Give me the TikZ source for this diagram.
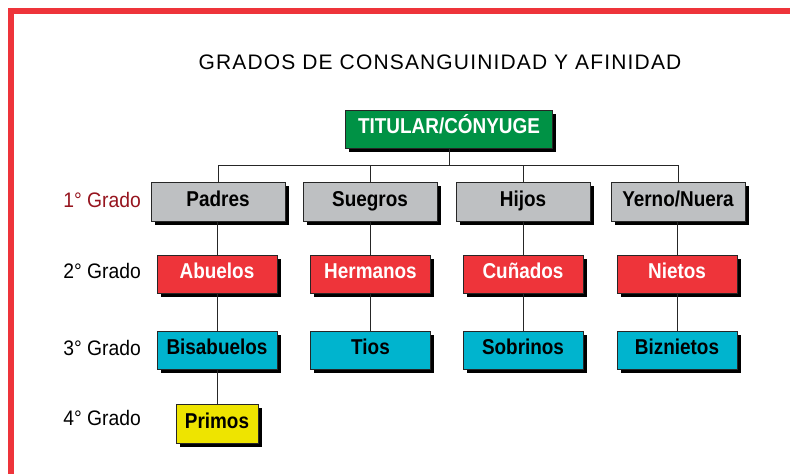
\documentclass[tikz,border=0pt]{standalone}
\usepackage{fontspec}
\setmainfont{Liberation Sans}
\newfontfamily\boxfont[FakeStretch=0.88]{Liberation Sans}
\newfontfamily\labfont[FakeStretch=0.92]{Liberation Sans}
\usetikzlibrary{shadows}
\definecolor{frame}{RGB}{238,52,58}
\definecolor{boxgreen}{RGB}{0,146,69}
\definecolor{boxgray}{RGB}{190,192,194}
\definecolor{boxred}{RGB}{238,52,58}
\definecolor{boxcyan}{RGB}{0,180,206}
\definecolor{boxyellow}{RGB}{238,228,0}
\definecolor{labred}{RGB}{150,20,30}
\tikzset{
  box/.style={draw=black!85, line width=0.8pt, inner sep=0pt,
    font=\boxfont\fontsize{21.5}{22}\selectfont\bfseries,
    text height=15.5pt, text depth=6.5pt,
    drop shadow={shadow xshift=3.5pt, shadow yshift=-3.5pt, fill=black, opacity=1}},
  lvl1/.style={box, fill=boxgray, text=black, minimum width=134pt, minimum height=39pt},
  lvl2/.style={box, fill=boxred, text=white, minimum width=120pt, minimum height=38pt},
  lvl3/.style={box, fill=boxcyan, text=black, minimum width=120pt, minimum height=38pt},
  lvl4/.style={box, fill=boxyellow, text=black, minimum width=82pt, minimum height=39pt},
  topbox/.style={box, fill=boxgreen, text=white, minimum width=207pt, minimum height=38pt},
  conn/.style={draw=black!85, line width=0.8pt},
  gradlab/.style={anchor=east, inner sep=0pt, font=\labfont\fontsize{21}{22}\selectfont}
}
\begin{document}
\begin{tikzpicture}[x=1pt,y=-1pt]
\useasboundingbox (0,0) rectangle (790,474);
\fill[white] (0,0) rectangle (790,474);
% red frame
\draw[frame, line width=6pt] (11,474) -- (11,11) -- (790,11);
% title
\node[inner sep=0pt, font=\fontsize{21}{22}\selectfont, text=black] (title) at (440,62) {\addfontfeature{LetterSpace=5.5}GRADOS DE CONSANGUINIDAD Y AFINIDAD};
% top box
\node[topbox] (tit) at (449,129) {TITULAR/CÓNYUGE};
% level 1
\node[lvl1] (padres) at (218,201.5) {Padres};
\node[lvl1] (suegros) at (370,201.5) {Suegros};
\node[lvl1] (hijos) at (523,201.5) {Hijos};
\node[lvl1] (yerno) at (678,201.5) {Yerno/Nuera};
% level 2
\node[lvl2] (abuelos) at (217,274) {Abuelos};
\node[lvl2] (hermanos) at (370.5,274) {Hermanos};
\node[lvl2] (cunados) at (523,274) {Cuñados};
\node[lvl2] (nietos) at (677,274) {Nietos};
% level 3
\node[lvl3] (bisabuelos) at (217,350) {Bisabuelos};
\node[lvl3] (tios) at (370.5,350) {Tios};
\node[lvl3] (sobrinos) at (523,350) {Sobrinos};
\node[lvl3] (biznietos) at (677,350) {Biznietos};
% level 4
\node[lvl4] (primos) at (217,423.5) {Primos};
% grade labels
\node[gradlab, text=labred] (g1) at (141,200) {1° Grado};
\node[gradlab, text=black] (g2) at (141,271) {2° Grado};
\node[gradlab, text=black] (g3) at (141,348) {3° Grado};
\node[gradlab, text=black] (g4) at (141,418) {4° Grado};
% connectors
\coordinate (bus) at (449,165);
\draw[conn] (tit.south) -- (bus);
\draw[conn] (padres.north) -- (padres.north |- bus) -- (yerno.north |- bus) -- (yerno.north);
\draw[conn] (suegros.north) -- (suegros.north |- bus);
\draw[conn] (hijos.north) -- (hijos.north |- bus);
\draw[conn] (padres.south -| abuelos.north) -- (abuelos.north);
\draw[conn] (suegros.south -| hermanos.north) -- (hermanos.north);
\draw[conn] (hijos.south -| cunados.north) -- (cunados.north);
\draw[conn] (yerno.south -| nietos.north) -- (nietos.north);
\draw[conn] (abuelos.south) -- (bisabuelos.north);
\draw[conn] (hermanos.south) -- (tios.north);
\draw[conn] (cunados.south) -- (sobrinos.north);
\draw[conn] (nietos.south) -- (biznietos.north);
\draw[conn] (bisabuelos.south) -- (primos.north);
\end{tikzpicture}
\end{document}
